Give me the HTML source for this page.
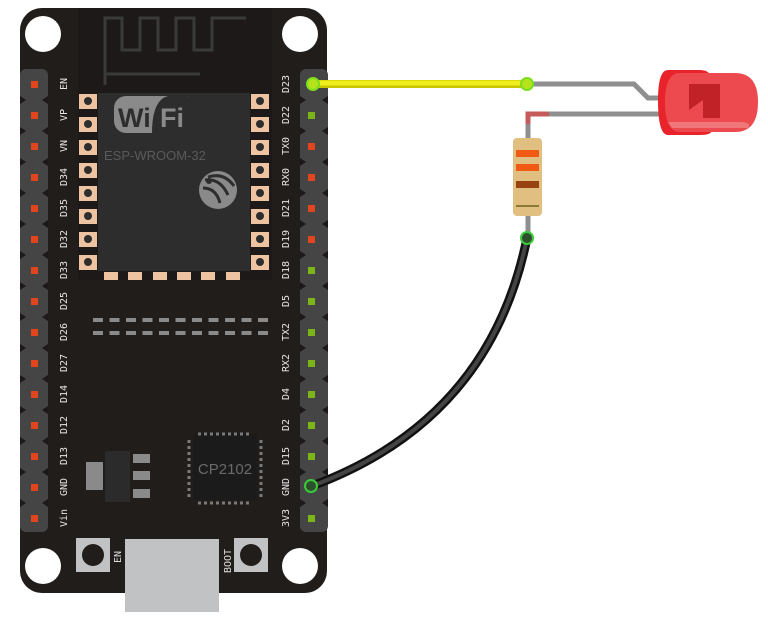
<!DOCTYPE html>
<html><head><meta charset="utf-8"><style>
html,body{margin:0;padding:0;background:#fff;width:768px;height:627px;overflow:hidden}
svg{display:block}
.mono{font-family:"DejaVu Sans Mono","Liberation Mono",monospace;}
.sans{font-family:"Liberation Sans",sans-serif;}
</style></head><body>
<svg width="768" height="627" viewBox="0 0 768 627" xmlns="http://www.w3.org/2000/svg">
<!-- board -->
<rect x="20" y="8" width="307" height="585" rx="22" fill="#211d1b"/>
<!-- USB -->
<rect x="125" y="539" width="94" height="73" fill="#c1c2c3"/>
<!-- module antenna area -->
<rect x="78" y="8" width="194" height="272" fill="#1c1918"/>
<rect x="98" y="93" width="152" height="178" fill="#2d2d2d"/>
<path d="M105 85 V18 H122 V50 H140 V18 H158 V50 H176 V18 H194 V50 H212 V18 H246" fill="none" stroke="#3a3a3a" stroke-width="3"/>
<path d="M105 74 H200" stroke="#3a3a3a" stroke-width="3"/>
<!-- holes -->
<circle cx="43" cy="34" r="18" fill="#fff"/>
<circle cx="300" cy="34" r="18" fill="#fff"/>
<circle cx="43" cy="566" r="18" fill="#fff"/>
<circle cx="300" cy="566" r="18" fill="#fff"/>
<!-- wifi logo -->
<rect x="114" y="96" width="84" height="37" rx="12" fill="#8a8a8a"/>
<text class="sans" x="118" y="127" font-weight="bold" font-size="27" fill="#2d2d2d">Wi</text>
<path d="M152 133 Q152 100 168 96 H186 Q198 96 198 108 V121 Q198 133 186 133 Z" fill="#2d2d2d"/>
<text class="sans" x="160" y="127" font-weight="bold" font-size="27" fill="#8a8a8a">Fi</text>
<text class="sans" x="104" y="160" font-size="13" fill="#5a5a5a">ESP-WROOM-32</text>
<circle cx="218" cy="190" r="19" fill="#8a8a8a"/>
<path d="M205 180 Q220 178 228 195 M203 188 Q216 188 220 203 M208 177 Q224 172 234 186" stroke="#2d2d2d" stroke-width="3" fill="none"/>
<circle cx="209" cy="181" r="3" fill="#2d2d2d"/>
<!-- pads -->
<g fill="#eec3a1">
<rect x="79" y="94" width="18" height="15"/><rect x="79" y="117" width="18" height="15"/><rect x="79" y="140" width="18" height="15"/><rect x="79" y="163" width="18" height="15"/><rect x="79" y="186" width="18" height="15"/><rect x="79" y="209" width="18" height="15"/><rect x="79" y="232" width="18" height="15"/><rect x="79" y="255" width="18" height="15"/>
<rect x="251" y="94" width="18" height="15"/><rect x="251" y="117" width="18" height="15"/><rect x="251" y="140" width="18" height="15"/><rect x="251" y="163" width="18" height="15"/><rect x="251" y="186" width="18" height="15"/><rect x="251" y="209" width="18" height="15"/><rect x="251" y="232" width="18" height="15"/><rect x="251" y="255" width="18" height="15"/>
<rect x="104" y="272" width="14" height="8"/><rect x="128" y="272" width="14" height="8"/><rect x="153" y="272" width="14" height="8"/><rect x="177" y="272" width="14" height="8"/><rect x="201" y="272" width="14" height="8"/><rect x="226" y="272" width="14" height="8"/>
</g>
<g fill="#2d2d2d">
<circle cx="88" cy="101" r="4"/><circle cx="88" cy="124" r="4"/><circle cx="88" cy="147" r="4"/><circle cx="88" cy="170" r="4"/><circle cx="88" cy="193" r="4"/><circle cx="88" cy="216" r="4"/><circle cx="88" cy="239" r="4"/><circle cx="88" cy="262" r="4"/>
<circle cx="260" cy="101" r="4"/><circle cx="260" cy="124" r="4"/><circle cx="260" cy="147" r="4"/><circle cx="260" cy="170" r="4"/><circle cx="260" cy="193" r="4"/><circle cx="260" cy="216" r="4"/><circle cx="260" cy="239" r="4"/><circle cx="260" cy="262" r="4"/>
</g>
<g stroke="#8a8a8a" stroke-width="4" stroke-dasharray="10,6.5">
<line x1="93" y1="320" x2="270" y2="320"/><line x1="93" y1="333" x2="270" y2="333"/>
</g>
<!-- regulator -->
<rect x="86" y="462" width="17" height="28" fill="#8a8a8a"/>
<rect x="105" y="451" width="25" height="51" fill="#2b2b2b"/>
<g fill="#8a8a8a"><rect x="133" y="454" width="17" height="9"/><rect x="133" y="471" width="17" height="9"/><rect x="133" y="489" width="17" height="9"/></g>
<!-- CP2102 -->
<rect x="193" y="434" width="64" height="66" fill="#1b1b1b"/>
<g stroke="#7a7a7a" stroke-width="3" stroke-dasharray="3,3">
<line x1="198" y1="434" x2="252" y2="434"/><line x1="198" y1="503" x2="252" y2="503"/>
<line x1="189" y1="440" x2="189" y2="497"/><line x1="261" y1="440" x2="261" y2="497"/>
</g>
<text class="sans" x="225" y="474" text-anchor="middle" font-size="15" fill="#6a6a6a">CP2102</text>
<!-- buttons -->
<rect x="76" y="538" width="34" height="34" fill="#c1c2c3"/><circle cx="93" cy="555" r="11" fill="#211d1b"/>
<rect x="234" y="538" width="34" height="34" fill="#c1c2c3"/><circle cx="251" cy="555" r="11" fill="#211d1b"/>
<text class="mono" transform="translate(121,563) rotate(-90)" font-size="10" fill="#ddd">EN</text>
<text class="mono" transform="translate(231,573) rotate(-90)" font-size="10" fill="#ddd">BOOT</text>
<!-- headers -->
<g fill="#454545">
<rect x="20" y="69" width="28" height="463" rx="6"/>
<rect x="300" y="69" width="28" height="463" rx="6"/>
</g>
<g fill="#1c1918">
<path d="M20 96 l6 4 -6 4Z M20 127 l6 4 -6 4Z M20 158 l6 4 -6 4Z M20 189 l6 4 -6 4Z M20 220 l6 4 -6 4Z M20 251 l6 4 -6 4Z M20 282 l6 4 -6 4Z M20 313 l6 4 -6 4Z M20 344 l6 4 -6 4Z M20 375 l6 4 -6 4Z M20 406 l6 4 -6 4Z M20 437 l6 4 -6 4Z M20 468 l6 4 -6 4Z M20 499 l6 4 -6 4Z"/>
<path d="M48 96 l-6 4 6 4Z M48 127 l-6 4 6 4Z M48 158 l-6 4 6 4Z M48 189 l-6 4 6 4Z M48 220 l-6 4 6 4Z M48 251 l-6 4 6 4Z M48 282 l-6 4 6 4Z M48 313 l-6 4 6 4Z M48 344 l-6 4 6 4Z M48 375 l-6 4 6 4Z M48 406 l-6 4 6 4Z M48 437 l-6 4 6 4Z M48 468 l-6 4 6 4Z M48 499 l-6 4 6 4Z"/>
<path d="M300 96 l6 4 -6 4Z M300 127 l6 4 -6 4Z M300 158 l6 4 -6 4Z M300 189 l6 4 -6 4Z M300 220 l6 4 -6 4Z M300 251 l6 4 -6 4Z M300 282 l6 4 -6 4Z M300 313 l6 4 -6 4Z M300 344 l6 4 -6 4Z M300 375 l6 4 -6 4Z M300 406 l6 4 -6 4Z M300 437 l6 4 -6 4Z M300 468 l6 4 -6 4Z M300 499 l6 4 -6 4Z"/>
<path d="M328 96 l-6 4 6 4Z M328 127 l-6 4 6 4Z M328 158 l-6 4 6 4Z M328 189 l-6 4 6 4Z M328 220 l-6 4 6 4Z M328 251 l-6 4 6 4Z M328 282 l-6 4 6 4Z M328 313 l-6 4 6 4Z M328 344 l-6 4 6 4Z M328 375 l-6 4 6 4Z M328 406 l-6 4 6 4Z M328 437 l-6 4 6 4Z M328 468 l-6 4 6 4Z M328 499 l-6 4 6 4Z"/>
</g>
<g fill="#e0451e">
<rect x="31" y="81" width="7" height="7"/><rect x="31" y="112" width="7" height="7"/><rect x="31" y="143" width="7" height="7"/><rect x="31" y="174" width="7" height="7"/><rect x="31" y="205" width="7" height="7"/><rect x="31" y="236" width="7" height="7"/><rect x="31" y="267" width="7" height="7"/><rect x="31" y="298" width="7" height="7"/><rect x="31" y="329" width="7" height="7"/><rect x="31" y="360" width="7" height="7"/><rect x="31" y="391" width="7" height="7"/><rect x="31" y="422" width="7" height="7"/><rect x="31" y="453" width="7" height="7"/><rect x="31" y="484" width="7" height="7"/><rect x="31" y="515" width="7" height="7"/>
<rect x="308" y="143" width="7" height="7"/><rect x="308" y="174" width="7" height="7"/><rect x="308" y="205" width="7" height="7"/><rect x="308" y="236" width="7" height="7"/>
</g>
<g fill="#7cb518">
<rect x="308" y="112" width="7" height="7"/><rect x="308" y="267" width="7" height="7"/><rect x="308" y="298" width="7" height="7"/><rect x="308" y="329" width="7" height="7"/><rect x="308" y="360" width="7" height="7"/><rect x="308" y="391" width="7" height="7"/><rect x="308" y="422" width="7" height="7"/><rect x="308" y="453" width="7" height="7"/><rect x="308" y="515" width="7" height="7"/>
</g>
<g class="mono" font-size="10" fill="#e6e6e6">
<text transform="translate(67,84) rotate(-90)" text-anchor="middle">EN</text>
<text transform="translate(67,115) rotate(-90)" text-anchor="middle">VP</text>
<text transform="translate(67,146) rotate(-90)" text-anchor="middle">VN</text>
<text transform="translate(67,177) rotate(-90)" text-anchor="middle">D34</text>
<text transform="translate(67,208) rotate(-90)" text-anchor="middle">D35</text>
<text transform="translate(67,239) rotate(-90)" text-anchor="middle">D32</text>
<text transform="translate(67,270) rotate(-90)" text-anchor="middle">D33</text>
<text transform="translate(67,301) rotate(-90)" text-anchor="middle">D25</text>
<text transform="translate(67,332) rotate(-90)" text-anchor="middle">D26</text>
<text transform="translate(67,363) rotate(-90)" text-anchor="middle">D27</text>
<text transform="translate(67,394) rotate(-90)" text-anchor="middle">D14</text>
<text transform="translate(67,425) rotate(-90)" text-anchor="middle">D12</text>
<text transform="translate(67,456) rotate(-90)" text-anchor="middle">D13</text>
<text transform="translate(67,487) rotate(-90)" text-anchor="middle">GND</text>
<text transform="translate(67,518) rotate(-90)" text-anchor="middle">Vin</text>
<text transform="translate(289,84) rotate(-90)" text-anchor="middle">D23</text>
<text transform="translate(289,115) rotate(-90)" text-anchor="middle">D22</text>
<text transform="translate(289,146) rotate(-90)" text-anchor="middle">TX0</text>
<text transform="translate(289,177) rotate(-90)" text-anchor="middle">RX0</text>
<text transform="translate(289,208) rotate(-90)" text-anchor="middle">D21</text>
<text transform="translate(289,239) rotate(-90)" text-anchor="middle">D19</text>
<text transform="translate(289,270) rotate(-90)" text-anchor="middle">D18</text>
<text transform="translate(289,301) rotate(-90)" text-anchor="middle">D5</text>
<text transform="translate(289,332) rotate(-90)" text-anchor="middle">TX2</text>
<text transform="translate(289,363) rotate(-90)" text-anchor="middle">RX2</text>
<text transform="translate(289,394) rotate(-90)" text-anchor="middle">D4</text>
<text transform="translate(289,425) rotate(-90)" text-anchor="middle">D2</text>
<text transform="translate(289,456) rotate(-90)" text-anchor="middle">D15</text>
<text transform="translate(289,487) rotate(-90)" text-anchor="middle">GND</text>
<text transform="translate(289,518) rotate(-90)" text-anchor="middle">3V3</text>
</g>
<!-- LED legs -->
<path d="M527 84 H634 L648 98 H662" fill="none" stroke="#8f8f8f" stroke-width="5"/>
<path d="M528 140 V114 H662" fill="none" stroke="#8f8f8f" stroke-width="5"/>
<path d="M528 122 V114 H547" fill="none" stroke="#c45a5a" stroke-width="5" stroke-linecap="round"/>
<!-- LED -->
<path d="M668 70 H700 Q712 70 712 82 V130 Q712 135 700 135 H668 Q658 135 658 100 Q658 70 668 70Z" fill="#e8232b"/>
<path d="M680 73 H735 Q758 73 758 102 Q758 132 735 132 H680 Q665 132 665 102 Q665 73 680 73Z" fill="#ec4a4e"/>
<path d="M689 84 H720 V118 H703 V100 L689 110Z" fill="#c02228"/>
<path d="M668 122 H740 Q752 122 748 128 H672Z" fill="#f28a8c" opacity="0.7"/>
<!-- resistor -->
<path d="M528 210 V240" stroke="#8f8f8f" stroke-width="5"/>
<rect x="513" y="138" width="29" height="78" rx="4" fill="#e1bf80"/>
<rect x="516" y="150" width="23" height="7" fill="#f05a12"/>
<rect x="516" y="164" width="23" height="7" fill="#f05a12"/>
<rect x="516" y="181" width="23" height="7" fill="#98420f"/>
<rect x="516" y="205" width="23" height="2" fill="#8a7a3a"/>
<!-- yellow wire -->
<line x1="313" y1="84" x2="527" y2="84" stroke="#c9c400" stroke-width="8" stroke-linecap="round"/>
<line x1="313" y1="83" x2="527" y2="83" stroke="#f2ee1c" stroke-width="5" stroke-linecap="round"/>
<circle cx="313" cy="84" r="6" fill="#b6e21c" stroke="#78e020" stroke-width="2"/>
<circle cx="527" cy="84" r="6" fill="#b6e21c" stroke="#78e020" stroke-width="2"/>
<!-- black wire -->
<path d="M527 238 Q490 420 312 486" fill="none" stroke="#111" stroke-width="9" stroke-linecap="round"/>
<path d="M527 238 Q490 420 312 486" fill="none" stroke="#444" stroke-width="4" stroke-linecap="round"/>
<circle cx="527" cy="238" r="6" fill="#2d4f2d" stroke="#3acb3a" stroke-width="2"/>
<circle cx="311" cy="486" r="6" fill="#2d4f2d" stroke="#3acb3a" stroke-width="2"/>
</svg>
</body></html>
